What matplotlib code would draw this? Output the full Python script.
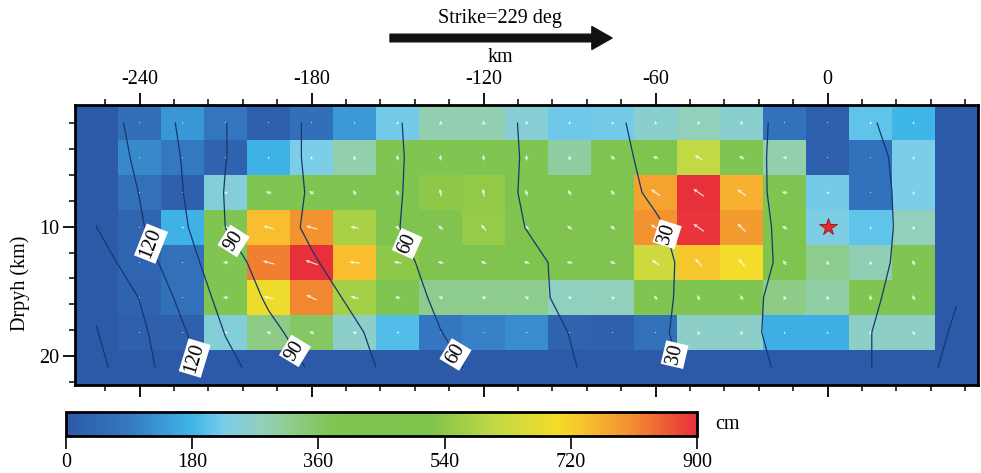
import numpy as np
import matplotlib
matplotlib.use("Agg")
import matplotlib.pyplot as plt
from matplotlib.colors import LinearSegmentedColormap
from matplotlib.patches import FancyArrowPatch
from matplotlib.ticker import MultipleLocator

plt.rcParams['font.family'] = ['Liberation Serif', 'DejaVu Serif']
plt.rcParams['axes.unicode_minus'] = False

# ---------------- data ----------------
along_strike_km = [-255, -240, -225, -210, -195, -180, -165, -150, -135, -120, -105,
                   -90, -75, -60, -45, -30, -15, 0, 15, 30, 45]
depth_km = [1.943, 4.649, 7.355, 10.061, 12.767, 15.473, 18.179, 20.885]

slip_cm = [
    [0, 60, 135, 80, 15, 60, 140, 220, 290, 290, 250, 215, 220, 260, 280, 260, 70, 15, 205, 180, 0],
    [0, 115, 90, 25, 175, 225, 295, 380, 400, 400, 390, 305, 385, 410, 610, 400, 295, 20, 70, 225, 0],
    [0, 65, 20, 245, 390, 395, 400, 410, 540, 545, 420, 420, 420, 780, 900, 760, 400, 220, 70, 225, 0],
    [0, 30, 175, 380, 745, 800, 580, 410, 430, 550, 430, 430, 430, 800, 895, 790, 410, 230, 205, 280, 0],
    [0, 30, 65, 390, 820, 900, 745, 540, 430, 430, 420, 420, 425, 630, 730, 700, 410, 320, 285, 390, 0],
    [0, 25, 65, 390, 690, 815, 570, 400, 320, 320, 320, 275, 280, 390, 400, 400, 330, 300, 390, 390, 0],
    [0, 20, 20, 245, 330, 360, 265, 195, 85, 105, 120, 25, 20, 65, 265, 265, 170, 170, 270, 270, 0],
    [0] * 21,
]

rake_deg = [
    [0, 100, 100, 100, 100, 100, 100, 100, 100, 100, 100, 100, 100, 100, 100, 100, 100, 100, 100, 100, 0],
    [0, 120, 120, 120, 110, 100, 95, 95, 95, 95, 95, 110, 140, 160, 150, 150, 170, 100, 100, 100, 0],
    [0, 120, 120, 160, 165, 150, 120, 115, 100, 100, 110, 125, 130, 145, 145, 145, 170, 150, 110, 100, 0],
    [0, 170, 170, 170, 165, 165, 170, 150, 140, 130, 140, 145, 140, 150, 145, 135, 150, 110, 100, 100, 0],
    [0, 170, 170, 175, 165, 160, 175, 170, 165, 155, 165, 170, 155, 145, 130, 130, 120, 110, 100, 110, 0],
    [0, 170, 170, 175, 165, 155, 165, 170, 165, 165, 150, 150, 140, 130, 110, 115, 110, 110, 100, 120, 0],
    [0, 170, 170, 170, 170, 165, 170, 170, 170, 170, 160, 150, 140, 130, 110, 95, 95, 95, 100, 120, 0],
    [0] * 21,
]

rupture_time_s = [
    [128.0, 115.3, 102.9, 90.3, 81.2, 73.1, 66.9, 60.6, 55.0, 49.5, 43.8, 37.7, 31.5, 26.7, 22.2, 17.8, 13.3, 10.0, 14.0, 20.7, 28.0],
    [130.0, 117.2, 104.4, 90.3, 81.2, 73.1, 67.0, 60.9, 55.2, 49.7, 44.1, 38.3, 32.6, 27.3, 22.6, 17.8, 13.0, 7.0, 12.0, 19.1, 26.0],
    [133.5, 119.6, 105.3, 89.3, 81.4, 73.8, 67.2, 60.7, 55.0, 49.4, 43.9, 38.7, 33.5, 28.4, 23.2, 18.1, 12.9, 4.0, 11.0, 19.0, 25.0],
    [135.1, 121.7, 107.4, 89.9, 80.9, 72.9, 66.6, 60.3, 55.1, 50.0, 44.8, 40.3, 35.8, 31.3, 25.6, 19.4, 13.1, 0.0, 10.0, 19.4, 26.0],
    [142.3, 126.8, 111.4, 95.5, 84.6, 76.3, 69.2, 62.3, 56.8, 52.1, 47.4, 42.6, 37.6, 32.6, 26.8, 20.0, 13.2, 5.0, 11.0, 19.7, 27.0],
    [148.0, 134.6, 116.1, 99.8, 88.2, 80.6, 72.6, 64.7, 58.0, 52.9, 47.8, 42.7, 37.7, 32.6, 26.4, 18.8, 11.4, 7.0, 13.0, 20.7, 29.6],
    [150.5, 138.4, 121.8, 104.4, 93.1, 84.4, 76.8, 68.6, 60.2, 55.1, 50.0, 44.8, 38.5, 32.2, 25.4, 18.3, 11.3, 9.0, 14.7, 24.7, 31.3],
    [153.7, 140.3, 125.7, 109.4, 98.0, 88.6, 79.2, 70.8, 63.4, 57.0, 51.6, 46.1, 39.8, 33.4, 26.8, 19.8, 12.9, 11.0, 14.8, 21.5, 36.4],
]

unlabeled_levels = [15, 45, 75, 105, 135, 150]
labeled_levels = [30, 60, 90, 120]
label_points = [(-235.9, 11.3), (-221.4, 20.2), (-208.6, 11.3), (-186.5, 19.7),
                (-147.6, 11.4), (-130.7, 20.0), (-54.6, 10.5), (-53.5, 19.9)]
hypocenter_x_km = 0
hypocenter_depth_km = 10
strike_deg = 229
x_major_ticks = [-240, -180, -120, -60, 0]
y_major_ticks = [10, 20]
cbar_ticks = [0, 180, 360, 540, 720, 900]

# ---------------- styling ----------------
cmap = LinearSegmentedColormap.from_list("slip", [
    (0.00, "#2d5aa8"),
    (0.10, "#3479c2"),
    (0.20, "#3fb6e8"),
    (0.25, "#7ccde9"),
    (0.31, "#92d0bc"),
    (0.36, "#8ecc8a"),
    (0.42, "#80c452"),
    (0.58, "#80c44a"),
    (0.68, "#c2d944"),
    (0.78, "#f4dc2a"),
    (0.83, "#f8bc30"),
    (0.90, "#f28c30"),
    (1.00, "#e8303a"),
])

FS = 14.5
LINE_COLOR = '#1a3570'
W, H = 981, 473
fig = plt.figure(figsize=(W / 100, H / 100), dpi=100)
ax = fig.add_axes([75 / W, 1 - 385 / H, 903 / W, 280 / H])

xc = np.array(along_strike_km, float)
yc = np.array(depth_km, float)
xe = np.concatenate([[xc[0] - (xc[1] - xc[0]) / 2], (xc[:-1] + xc[1:]) / 2, [xc[-1] + (xc[-1] - xc[-2]) / 2]])
ye = np.concatenate([[yc[0] - (yc[1] - yc[0]) / 2], (yc[:-1] + yc[1:]) / 2, [yc[-1] + (yc[-1] - yc[-2]) / 2]])
S = np.array(slip_cm, float)
R = np.radians(np.array(rake_deg, float))
T = np.array(rupture_time_s, float)

pcm = ax.pcolormesh(xe, ye, S, cmap=cmap, vmin=0, vmax=900, shading='flat')

X, Y = np.meshgrid(xc, yc)
mask = S <= 0
U = np.ma.array(S * np.cos(R), mask=mask)
V = np.ma.array(S * np.sin(R), mask=mask)
ax.quiver(X, Y, U, V, angles='uv', scale_units='dots', scale=900 / 13.0, units='dots',
          width=1.2, headwidth=3.2, headlength=3.6, headaxislength=3.2, pivot='middle',
          color='white', alpha=0.8, zorder=3)

ax.contour(xc, yc, T, levels=unlabeled_levels, colors=LINE_COLOR, linewidths=0.9, zorder=4)
cs = ax.contour(xc, yc, T, levels=labeled_levels, colors=LINE_COLOR, linewidths=0.9, zorder=4)
labels = ax.clabel(cs, fmt='%d', inline=True, fontsize=14.5, colors='black',
                   manual=label_points, inline_spacing=2)
for t in labels:
    t.set_bbox(dict(boxstyle='square,pad=0.1', fc='white', ec='none'))
    t.set_zorder(6)

ax.plot(hypocenter_x_km, hypocenter_depth_km, marker='*', ms=13, color='#e8262e',
        mec='#8b1a1a', mew=0.6, zorder=7)

ax.set_xlim(xe[0], xe[-1])
ax.set_ylim(ye[-1], ye[0])

ax.set_xticks(x_major_ticks)
ax.xaxis.set_minor_locator(MultipleLocator(12))
ax.set_yticks(y_major_ticks)
ax.yaxis.set_minor_locator(MultipleLocator(2))
ax.tick_params(axis='x', which='both', top=True, bottom=True, labeltop=True, labelbottom=False,
               direction='out')
ax.tick_params(axis='y', which='both', left=True, right=False, direction='out')
ax.tick_params(which='major', length=8.5, width=1.3, labelsize=FS, pad=3)
ax.tick_params(which='minor', length=4.5, width=1.1)
for sp in ax.spines.values():
    sp.set_linewidth(2.0)

ax.set_ylabel('Drpyh (km)', fontsize=FS)
ax.yaxis.set_label_coords(-0.050, 0.364)

fig.text(500 / W, 1 - 57 / H, 'km', ha='center', va='center', fontsize=FS)
fig.text(500 / W, 1 - 19 / H, f'Strike={strike_deg} deg', ha='center', va='center', fontsize=FS)
arrow = FancyArrowPatch((390 / W, 1 - 38 / H), (612 / W, 1 - 38 / H), transform=fig.transFigure,
                        arrowstyle='simple,head_length=1.45,head_width=1.65,tail_width=0.55',
                        mutation_scale=10, color='#111111', shrinkA=0, shrinkB=0)
fig.add_artist(arrow)

cax = fig.add_axes([66 / W, 1 - 436 / H, 631 / W, 24 / H])
cb = fig.colorbar(pcm, cax=cax, orientation='horizontal', ticks=cbar_ticks)
cb.outline.set_linewidth(2.0)
cax.tick_params(direction='out', length=9, width=1.2, labelsize=FS, pad=3)
cax.minorticks_off()
fig.text(728 / W, 1 - 424 / H, 'cm', ha='center', va='center', fontsize=FS)

fig.savefig('out.png', dpi=100)
